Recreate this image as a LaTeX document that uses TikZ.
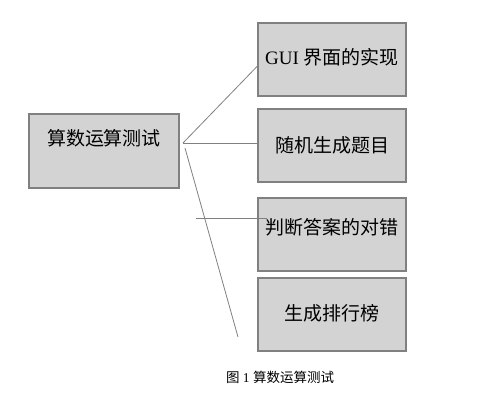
\documentclass[tikz,border=0pt]{standalone}
\usepackage{fontspec}
\setmainfont{Liberation Serif}
\newfontfamily\cjk{Noto Sans CJK SC}
\usetikzlibrary{positioning}
\definecolor{boxfill}{HTML}{D3D3D3}
\definecolor{boxline}{HTML}{808080}
\tikzset{
  box/.style={draw=boxline, line width=2pt, fill=boxfill, minimum width=148pt,
    minimum height=73pt, inner sep=0pt},
  boxtext/.style={font=\fontsize{19}{20}\selectfont, text=black},
  link/.style={draw=boxline, line width=0.8pt}}

\begin{document}
\begin{tikzpicture}[x=1pt, y=-1pt]
  \useasboundingbox (0,0) rectangle (504,404);
  % left box
  \node[box, minimum width=150pt, minimum height=74pt,
    label={[boxtext, yshift=13pt]center:{\cjk 算数运算测试}}] (test) at (104,151) {};
  % right column
  \node[box, label={[boxtext, yshift=2pt]center:GUI {\cjk 界面的实现}}] (gui) at (332,59.5) {};
  \node[box, label={[boxtext]center:{\cjk 随机生成题目}}] (rand) [below=11pt of gui] {};
  \node[box, label={[boxtext, yshift=7pt]center:{\cjk 判断答案的对错}}] (judge) [below=14pt of rand] {};
  \node[box, label={[boxtext, yshift=1.5pt]center:{\cjk 生成排行榜}}] (rank) [below=5pt of judge] {};
  \node[font=\fontsize{13.5}{15}\selectfont] (cap) at (280,377) {{\cjk 图} 1 {\cjk 算数运算测试}};
  % connectors
  \coordinate (hub) at (183,143);
  \coordinate (hubb) at (185,148);
  \coordinate (cut) at (196,218);
  \coordinate (cutend) at (267,218);
  \coordinate (tail) at (238,337);
  \draw[link] (hub) -- ([yshift=-7pt]gui.west);
  \draw[link] (hub) -- (hub -| rand.west);
  \draw[link] (cut) -- (cutend);
  \draw[link] (hubb) -- (tail);
\end{tikzpicture}
\end{document}
